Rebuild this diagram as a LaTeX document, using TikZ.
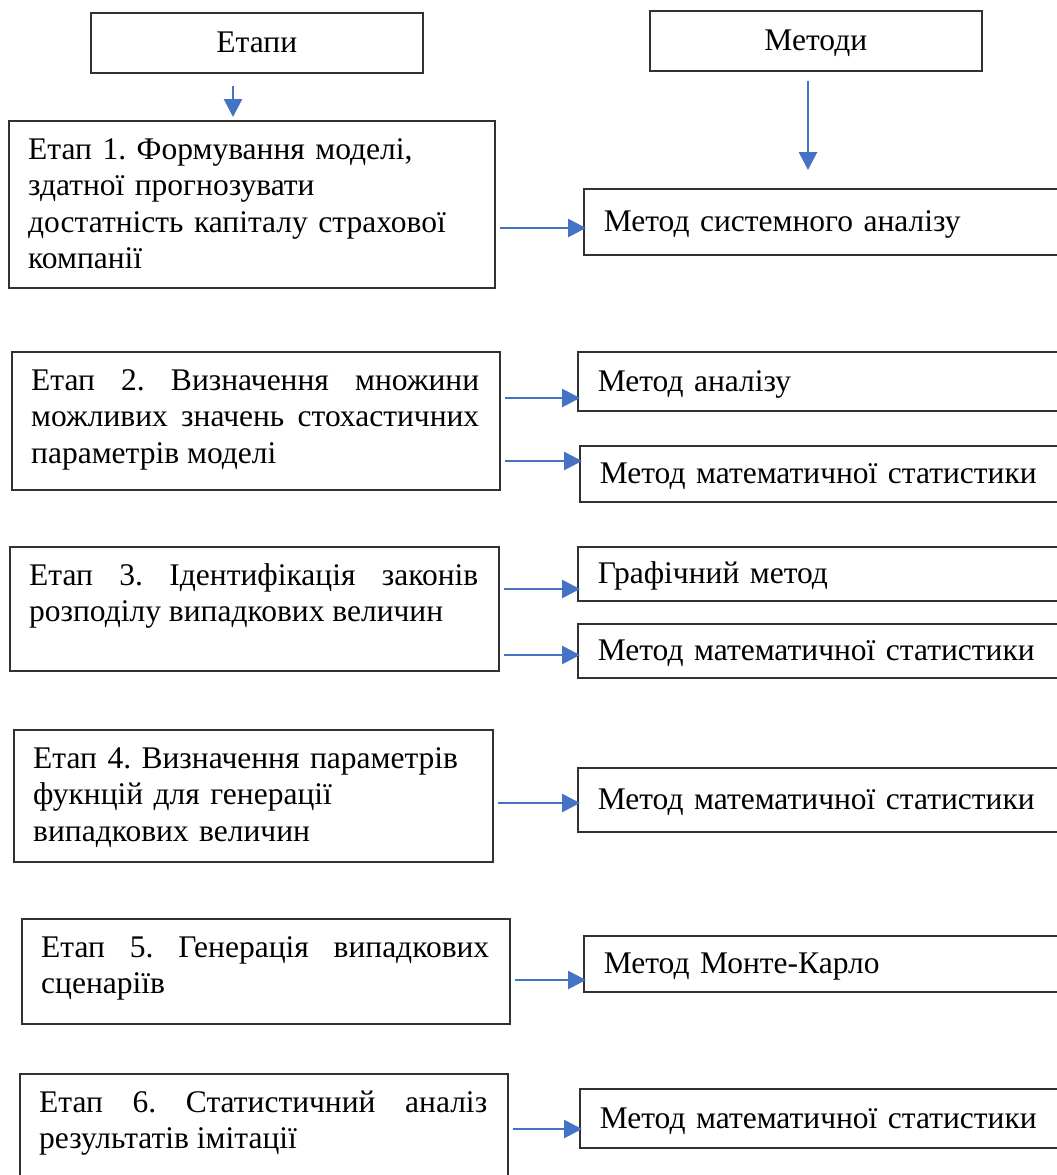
\documentclass[tikz,border=0pt]{standalone}
\usepackage{fontspec}
\setmainfont{Liberation Serif}
\usepackage{xcolor}
\usetikzlibrary{arrows.meta, positioning}
\definecolor{arrowblue}{RGB}{68,114,196}
\definecolor{framegray}{RGB}{50,50,50}
\frenchspacing

\begin{document}
\begin{tikzpicture}[
    x=1pt, y=-1pt,
    every node/.style={font=\fontsize{31.5}{36.5}\selectfont},
    headbox/.style={rectangle, draw=framegray, line width=1.6pt, anchor=north west,
                    minimum width=332pt, minimum height=60pt, inner sep=0pt,
                    text height=25pt, text depth=5pt},
    stagebox/.style={rectangle, draw=framegray, line width=1.6pt, anchor=north west, inner sep=0pt},
    stagetext/.style={anchor=base west, inner sep=0pt},
    methodbox/.style={rectangle, draw=framegray, line width=1.6pt, anchor=north west,
                      inner xsep=20pt, inner ysep=0pt, align=left,
                      text height=25pt, text depth=5pt},
    arrow/.style={-{Triangle[length=18pt, width=18pt]}, line width=2.8pt, draw=arrowblue,
                  shorten <=4pt, shorten >=-3pt},
]
\useasboundingbox (0,0) rectangle (1057,1175);

% Headers
\node[headbox] (stages) at (90,12) {Етапи};
\node[headbox] (methods) at (649,10) {Методи};

% Stage boxes (left column)
\node[stagebox, minimum width=486pt, minimum height=167pt] (s1) at (8,120) {};
\node[stagebox, minimum width=488pt, minimum height=138pt] (s2) at (11,351) {};
\node[stagebox, minimum width=489pt, minimum height=124pt] (s3) at (9,546) {};
\node[stagebox, minimum width=479pt, minimum height=132pt] (s4) at (13,729) {};
\node[stagebox, minimum width=488pt, minimum height=105pt] (s5) at (21,918) {};
\node[stagebox, minimum width=488pt, minimum height=130pt] (s6) at (19,1073) {};

% Stage texts
\node[stagetext, text width=446pt, align=left] (t1) at ([shift={(20,39)}]s1.north west)
    {Етап 1. Формування моделі,\\здатної прогнозувати\\достатність капіталу страхової\\компанії};
\node[stagetext, text width=448pt, align=justify] (t2) at ([shift={(20,39)}]s2.north west)
    {Етап 2. Визначення множини\linebreak можливих значень стохастичних\linebreak параметрів моделі};
\node[stagetext, text width=449pt, align=justify] (t3) at ([shift={(20,39)}]s3.north west)
    {Етап 3. Ідентифікація законів\linebreak розподілу випадкових величин};
\node[stagetext, text width=439pt, align=left] (t4) at ([shift={(20,39)}]s4.north west)
    {Етап 4. Визначення параметрів\\фукнцій для генерації\\випадкових величин};
\node[stagetext, text width=448pt, align=justify] (t5) at ([shift={(20,39)}]s5.north west)
    {Етап 5. Генерація випадкових\linebreak сценаріїв};
\node[stagetext, text width=448pt, align=justify] (t6) at ([shift={(20,39)}]s6.north west)
    {Етап 6. Статистичний аналіз\linebreak результатів імітації};

% Method boxes (right column, running off the right edge)
\node[methodbox, text width=439pt, minimum height=66pt] (m1) at (583,188) {Метод системного аналізу};
\node[methodbox, text width=445pt, minimum height=59pt] (m2) at (577,351) {Метод аналізу};
\node[methodbox, text width=443pt, minimum height=56pt] (m3) at (579,445) {Метод математичної статистики};
\node[methodbox, text width=445pt, minimum height=54pt] (m4) at (577,546) {Графічний метод};
\node[methodbox, text width=445pt, minimum height=54pt] (m5) at (577,623) {Метод математичної статистики};
\node[methodbox, text width=445pt, minimum height=64pt] (m6) at (577,767) {Метод математичної статистики};
\node[methodbox, text width=439pt, minimum height=56pt] (m7) at (583,935) {Метод Монте-Карло};
\node[methodbox, text width=443pt, minimum height=59pt] (m8) at (579,1088) {Метод математичної статистики};

% Arrow rows and columns
\coordinate (c1) at (233,0);
\coordinate (c2) at (808,0);
\coordinate (r1) at (0,228);
\coordinate (r2) at (0,398);
\coordinate (r3) at (0,461);
\coordinate (r4) at (0,589);
\coordinate (r5) at (0,655);
\coordinate (r6) at (0,803);
\coordinate (r7) at (0,980);
\coordinate (r8) at (0,1129);

% Arrows
\draw[arrow, shorten <=12pt, shorten >=3pt] (stages.south -| c1) -- (s1.north -| c1);
\draw[arrow, shorten <=9pt, shorten >=18pt] (methods.south -| c2) -- (m1.north -| c2);
\draw[arrow] (s1.east |- r1) -- (m1.west |- r1);
\draw[arrow] (s2.east |- r2) -- (m2.west |- r2);
\draw[arrow] (s2.east |- r3) -- (m3.west |- r3);
\draw[arrow] (s3.east |- r4) -- (m4.west |- r4);
\draw[arrow] (s3.east |- r5) -- (m5.west |- r5);
\draw[arrow] (s4.east |- r6) -- (m6.west |- r6);
\draw[arrow] (s5.east |- r7) -- (m7.west |- r7);
\draw[arrow] (s6.east |- r8) -- (m8.west |- r8);

\end{tikzpicture}
\end{document}
